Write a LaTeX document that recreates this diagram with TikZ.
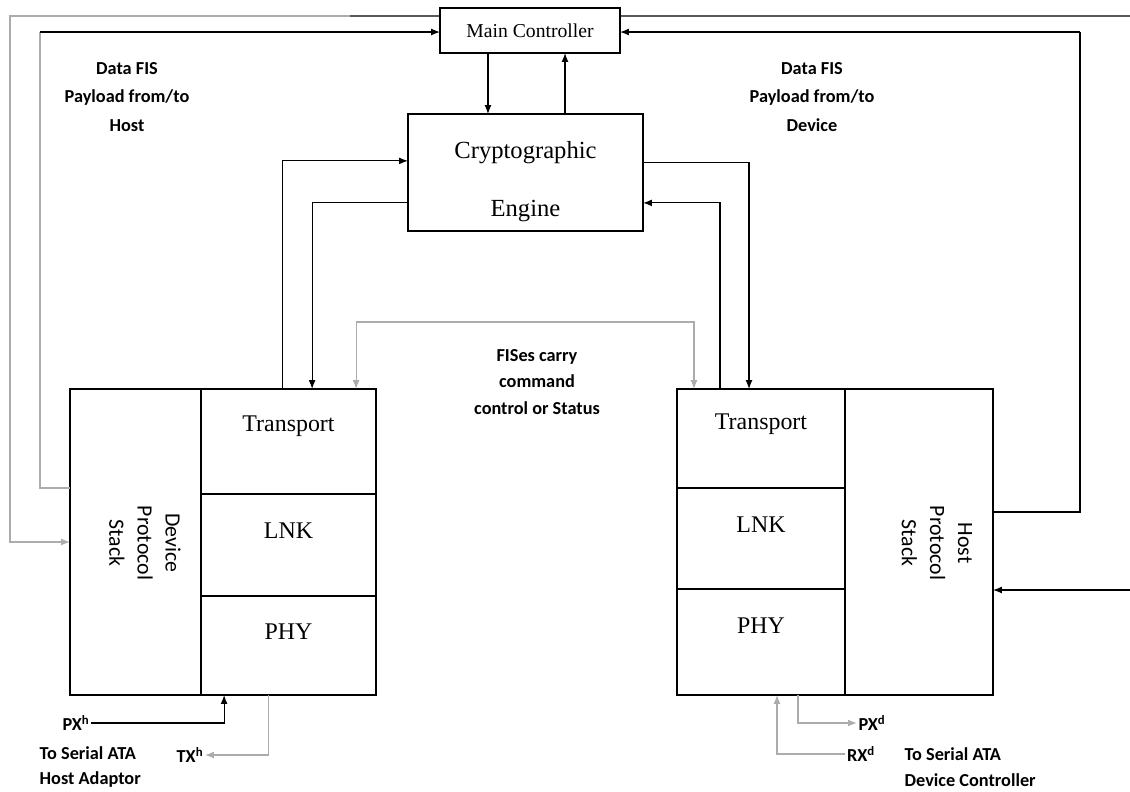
\documentclass[tikz,border=0pt]{standalone}
\usepackage{fontspec}
\setmainfont{Liberation Serif}
\newfontfamily\lblfont{Carlito}
\usetikzlibrary{arrows.meta}

\begin{document}
\begin{tikzpicture}[x=0.025cm, y=-0.025cm, >={Latex[length=2.2mm,width=1.7mm]},
    line/.style={line width=0.8pt},
    gline/.style={line width=0.8pt, gray!65},
    box/.style={draw, line width=0.8pt, inner sep=0pt, outer sep=0pt},
    layer/.style={box, minimum width=4.375cm, text depth=0.7cm, font=\fontsize{17}{20}\selectfont},
    stacktxt/.style={align=center, font=\lblfont\fontsize{15.5}{20}\selectfont},
    lbl/.style={inner sep=1pt, align=center, font=\lblfont\bfseries\fontsize{13}{20}\selectfont},
    dest/.style={lbl, anchor=west, align=left, font=\lblfont\bfseries\fontsize{13}{18}\selectfont}]
  \useasboundingbox (0,0) rectangle (1130,791);

  % controller and engine
  \node[box, minimum width=4.5cm, minimum height=1.125cm, font=\fontsize{14}{16}\selectfont] (mc) at (530,30.5) {Main Controller};
  \node[box, minimum width=5.875cm, minimum height=2.925cm, align=center, text height=2.34cm, font=\fontsize{17.5}{20}\selectfont] (crypto) at (525.5,172.5) {Cryptographic\\[0.75cm]Engine};

  % device side
  \node[box, minimum width=3.275cm, minimum height=7.65cm] (dstack) at (135.5,542) {};
  \node[stacktxt, rotate=-90] (dstxt) at (145,543) {Device\\Protocol\\Stack};
  \node[layer, minimum height=2.625cm, text depth=0.9cm] (dtr) at (288.5,441.5) {Transport};
  \node[layer, minimum height=2.55cm] (dlnk) at (288.5,545) {LNK};
  \node[layer, minimum height=2.475cm] (dphy) at (288.5,645.5) {PHY};

  % host side
  \node[layer, minimum width=4.2cm, minimum height=2.475cm, text depth=0.85cm] (htr) at (761,438.5) {Transport};
  \node[layer, minimum width=4.2cm, minimum height=2.525cm] (hlnk) at (761,538.5) {LNK};
  \node[layer, minimum width=4.2cm, minimum height=2.65cm, text depth=0.8cm] (hphy) at (761,642) {PHY};
  \node[box, minimum width=3.7cm, minimum height=7.65cm] (hstack) at (919,542) {};
  \node[stacktxt, rotate=-90] (hstxt) at (937,543) {Host\\Protocol\\Stack};

  % labels
  \node[lbl] (hfis) at (127,97) {Data FIS\\Payload from/to\\Host};
  \node[lbl] (dfis) at (812,97) {Data FIS\\Payload from/to\\Device};
  \node[lbl, font=\lblfont\bfseries\fontsize{13}{19}\selectfont] (fises) at (537,382) {FISes carry\\command\\control or Status};
  \node[lbl] (pxh) at (76,723) {PX\textsuperscript{h}};
  \node[lbl] (txh) at (190,755) {TX\textsuperscript{h}};
  \node[dest] (hadp) at (38,767) {To Serial ATA\\Host Adaptor};
  \node[lbl] (pxd) at (872,723) {PX\textsuperscript{d}};
  \node[lbl] (rxd) at (861,754) {RX\textsuperscript{d}};
  \node[dest] (dctl) at (903,767) {To Serial ATA\\Device Controller};

  \coordinate (tl) at (350,16);
  \coordinate (dc) at (40,32);
  \coordinate (rt) at (1130,16);
  \coordinate (hc) at (1080,32);
  \coordinate (rb) at (1130,590);
  \coordinate (fc) at (525,322);

  % outer loops through the controller
  \draw[line] ([yshift=-0.2cm]mc.north west) -- (tl);
  \draw[gline,->] (tl) -| ([xshift=-1.5cm]dstack.west) -- (dstack.west);
  \draw[gline] ([yshift=1.35cm]dstack.west) -| (dc);
  \draw[line,->] (dc) -- (mc.west |- dc);
  \draw[line] ([yshift=-0.2cm]mc.north east) -- (rt);
  \draw[line] ([yshift=0.75cm]hstack.east) -| (hc);
  \draw[line,->] (hc) -- (mc.east |- hc);
  \draw[line,->] (rb) -- (hstack.east |- rb);

  % controller <-> engine
  \draw[line,->] ([xshift=-1.05cm]mc.south) -- ([xshift=-1.05cm]mc.south |- crypto.north);
  \draw[line,->] ([xshift=0.875cm]mc.south |- crypto.north) -- ([xshift=0.875cm]mc.south);

  % engine <-> transport layers
  \draw[line,->] ([xshift=-0.14cm]dtr.north) |- ([yshift=0.29cm]crypto.west);
  \draw[line,->] ([yshift=-0.76cm]crypto.west) -| ([xshift=0.59cm]dtr.north);
  \draw[line,->] ([yshift=0.26cm]crypto.east) -| ([xshift=-0.3cm]htr.north);
  \draw[line,->] ([xshift=-1.025cm]htr.north) |- ([yshift=-0.76cm]crypto.east);
  \draw[gline,<->] ([xshift=1.69cm]dtr.north) |- (fc) -| ([xshift=-1.675cm]htr.north);

  % serial links
  \draw[line,->] (pxh.east) -| ([xshift=-1.61cm]dphy.south);
  \draw[gline,->] ([xshift=-0.51cm]dphy.south) |- (txh.east);
  \draw[gline,->] (rxd.west) -| ([xshift=0.4cm]hphy.south);
  \draw[gline,->] ([xshift=0.925cm]hphy.south) |- (pxd.west);
\end{tikzpicture}
\end{document}
